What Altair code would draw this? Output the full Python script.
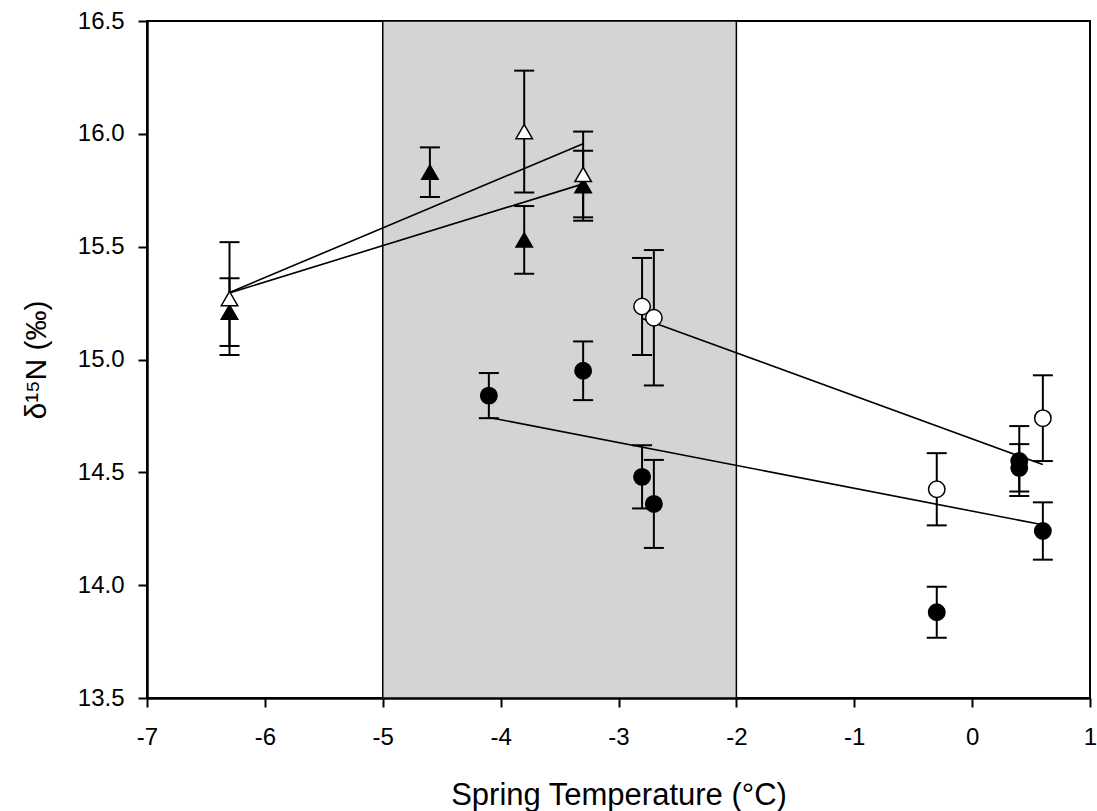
import altair as alt
import pandas as pd

# ---- axis ticks / band ----
x_ticks = [-7, -6, -5, -4, -3, -2, -1, 0, 1]
y_ticks = [13.5, 14.0, 14.5, 15.0, 15.5, 16.0, 16.5]
band_range = [-5, -2]

# ---- data (temperature, d15N mean, error) ----
tri_filled_x = [-6.3, -4.6, -3.8, -3.3]
tri_filled_y = [15.21, 15.83, 15.53, 15.77]
tri_filled_e = [0.15, 0.11, 0.15, 0.155]

tri_open_x = [-6.3, -3.8, -3.3]
tri_open_y = [15.27, 16.01, 15.82]
tri_open_e = [0.25, 0.27, 0.19]

circ_filled_x = [-4.1, -3.3, -2.8, -2.7, -0.3, 0.4, 0.4, 0.6]
circ_filled_y = [14.84, 14.95, 14.48, 14.36, 13.88, 14.55, 14.52, 14.24]
circ_filled_e = [0.10, 0.13, 0.14, 0.195, 0.113, 0.155, 0.105, 0.127]

circ_open_x = [-2.8, -2.7, -0.3, 0.6]
circ_open_y = [15.235, 15.185, 14.425, 14.74]
circ_open_e = [0.215, 0.30, 0.16, 0.19]

series_names = ["tri_filled", "tri_open", "circ_filled", "circ_open"]
series_data = [
    (tri_filled_x, tri_filled_y, tri_filled_e),
    (tri_open_x, tri_open_y, tri_open_e),
    (circ_filled_x, circ_filled_y, circ_filled_e),
    (circ_open_x, circ_open_y, circ_open_e),
]

rows = []
for name, (xs_, ys_, es_) in zip(series_names, series_data):
    for xv, yv, ev in zip(xs_, ys_, es_):
        rows.append({"series": name, "temp": xv, "d15n": yv,
                     "lo": yv - ev, "hi": yv + ev})
df = pd.DataFrame(rows)

band_df = pd.DataFrame({"temp": [band_range[0]], "temp2": [band_range[1]],
                        "d15n": [y_ticks[-1]], "d15n2": [y_ticks[0]]})

W, H = 943, 677
FONT = "Liberation Sans"
X_TITLE = "Spring Temperature (°C)"
Y_TITLE = "δ¹⁵N (‰)"

xscale = alt.Scale(domain=[x_ticks[0], x_ticks[-1]], nice=False, zero=False)
yscale = alt.Scale(domain=[y_ticks[0], y_ticks[-1]], nice=False, zero=False)

x_axis = alt.Axis(values=x_ticks, labelExpr="'' + datum.value", grid=False,
                  tickSize=9, tickWidth=2, tickColor="black",
                  domainColor="black", domainWidth=2.5,
                  labelFont=FONT, labelFontSize=24, labelColor="black",
                  labelPadding=18, labelFlush=False,
                  titleFont=FONT, titleFontSize=31, titleFontWeight="normal",
                  titleColor="black", titleY=106, titleBaseline="alphabetic")
y_axis = alt.Axis(values=y_ticks, format=".1f", grid=False,
                  tickSize=9, tickWidth=2, tickColor="black",
                  domainColor="black", domainWidth=2.5,
                  labelFont=FONT, labelFontSize=24, labelColor="black",
                  labelPadding=14, labelFlush=False,
                  titleFont=FONT, titleFontSize=30, titleFontWeight="normal",
                  titleColor="black", titleAngle=270, titleX=-111,
                  titleY=H / 2, titleBaseline="middle", titleAlign="center")

def X(field="temp"):
    return alt.X(f"{field}:Q", scale=xscale, axis=x_axis, title=X_TITLE)

def Y(field="d15n"):
    return alt.Y(f"{field}:Q", scale=yscale, axis=y_axis, title=Y_TITLE)

band = alt.Chart(band_df).mark_rect(fill="#d4d4d4", stroke="black",
                                    strokeWidth=1.5).encode(
    x=X(), x2="temp2:Q", y=Y(), y2="d15n2:Q")

reg = alt.Chart(df).transform_regression(
    "temp", "d15n", groupby=["series"]).mark_line(
    color="black", strokeWidth=1.6).encode(
    x=X(), y=Y(), detail="series:N")

err = alt.Chart(df).mark_rule(color="black", strokeWidth=2).encode(
    x=X(), y=Y("lo"), y2="hi:Q")

cap_lo = alt.Chart(df).mark_tick(color="black", size=20, thickness=2,
                                 orient="horizontal", opacity=1).encode(
    x=X(), y=Y("lo"))
cap_hi = alt.Chart(df).mark_tick(color="black", size=20, thickness=2,
                                 orient="horizontal", opacity=1).encode(
    x=X(), y=Y("hi"))

pts = alt.Chart(df).mark_point(filled=True, stroke="black", strokeWidth=1.5,
                               opacity=1, fillOpacity=1).encode(
    x=X(), y=Y(),
    shape=alt.Shape("series:N", legend=None, scale=alt.Scale(
        domain=series_names,
        range=["triangle-up", "triangle-up", "circle", "circle"])),
    fill=alt.Fill("series:N", legend=None, scale=alt.Scale(
        domain=series_names, range=["black", "white", "black", "white"])),
    size=alt.Size("series:N", legend=None, scale=alt.Scale(
        domain=series_names, range=[270, 270, 230, 230])),
)

chart = alt.layer(band, reg, err, cap_lo, cap_hi, pts).properties(
    width=W, height=H,
    autosize=alt.AutoSizeParams(type="none"),
    padding={"left": 147, "top": 21, "right": 7, "bottom": 113},
    background="white",
).configure_view(stroke="black", strokeWidth=2)

chart.save("out.html", embed_options={"renderer": "svg", "actions": False})
